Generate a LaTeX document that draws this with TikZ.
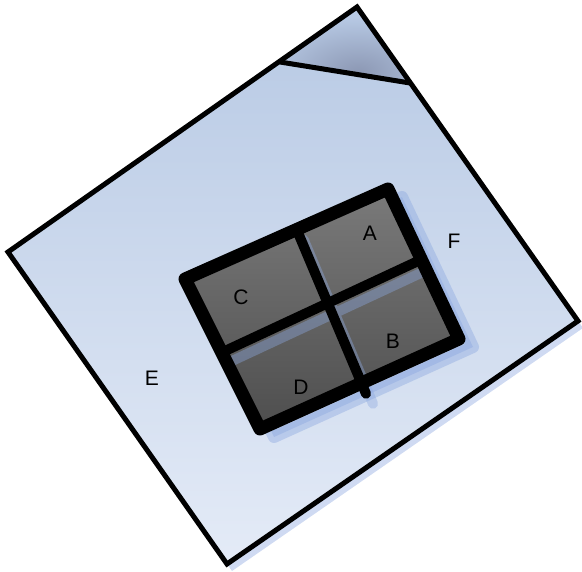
\documentclass[tikz,border=0pt]{standalone}
\usepackage{fontspec}
\setmainfont{Liberation Sans}
\usetikzlibrary{calc}

\definecolor{sheettop}{RGB}{183,201,228}
\definecolor{sheetbot}{RGB}{228,235,247}
\definecolor{folddark}{RGB}{140,152,180}
\definecolor{shadowblue}{RGB}{140,168,224}
\definecolor{panetop}{RGB}{122,122,122}
\definecolor{panebot}{RGB}{78,78,78}

\tikzset{
  lbl/.style={font=\fontsize{21}{24}\selectfont, inner sep=0pt},
  shadowfill/.style={fill=shadowblue, opacity=0.42, draw=none},
}

\begin{document}
\begin{tikzpicture}[x=1pt, y=-1pt]
  \useasboundingbox (0,0) rectangle (582,572);
  % sheet corners (px, y down)
  \coordinate (sL) at (8,252);
  \coordinate (sT) at (357,7);
  \coordinate (sR) at (578,321);
  \coordinate (sB) at (227,564);
  % fold line ends
  \coordinate (fL) at (280,62);
  \coordinate (fR) at (410,83);
  % window corners (centre of the frame line)
  \coordinate (wTL) at (185,279);
  \coordinate (wTR) at (388,189);
  \coordinate (wBR) at (459,339);
  \coordinate (wBL) at (260,429);
  % divider ends
  \coordinate (hL) at ($(wTL)!0.49!(wBL)$);
  \coordinate (hR) at ($(wTR)!0.47!(wBR)$);
  \coordinate (vT) at ($(wTL)!0.55!(wTR)$);
  \coordinate (vB0) at ($(wBL)!0.51!(wBR)$);
  \coordinate (vB) at ($(vT)!1.07!(vB0)$);

  % sheet shadow
  \fill[shadowfill] ($(sL)+(5,7)$) -- ($(sT)+(5,7)$) -- ($(sR)+(5,7)$) -- ($(sB)+(5,7)$) -- cycle;
  % sheet
  \shade[top color=sheettop, bottom color=sheetbot] (sL) -- (sT) -- (sR) -- (sB) -- cycle;
  \begin{scope}
    \clip (fL) -- (sT) -- (fR) -- cycle;
    \fill[sheettop] (fL) -- (sT) -- (fR) -- cycle;
    \shade[inner color=folddark, outer color=sheettop] (358,72) ellipse (95 and 55);
  \end{scope}
  \draw[line width=5pt, line join=miter] (sL) -- (sT) -- (sR) -- (sB) -- cycle;
  \draw[line width=5pt] (fL) -- (fR);

  % window shadow
  \filldraw[shadowfill, draw=shadowblue, line width=12pt, line join=round]
    ($(wTL)+(14,8)$) -- ($(wTR)+(14,8)$) -- ($(wBR)+(14,8)$) -- ($(wBL)+(14,8)$) -- cycle;
  % panes
  \shade[top color=panetop, bottom color=panebot] (wTL) -- (wTR) -- (wBR) -- (wBL) -- cycle;
  % divider shadows over the panes
  \draw[shadowblue, opacity=0.4, line width=10pt, line cap=round]
    ($(hL)+(7,10)$) -- ($(hR)+(7,10)$) ($(vT)+(7,10)$) -- ($(vB)+(7,10)$);
  % frame and dividers
  \draw[line width=13pt, line join=round] (wTL) -- (wTR) -- (wBR) -- (wBL) -- cycle;
  \draw[line width=10pt] (hL) -- (hR);
  \draw[line width=10pt, line cap=round] (vT) -- (vB);

  % labels
  \foreach \n/\x/\y in {A/370/233, B/393/341, C/241/297, D/301/387, E/152/378, F/454/241} {
    \node[lbl] (lbl\n) at (\x,\y) {\n};
  }
\end{tikzpicture}
\end{document}
